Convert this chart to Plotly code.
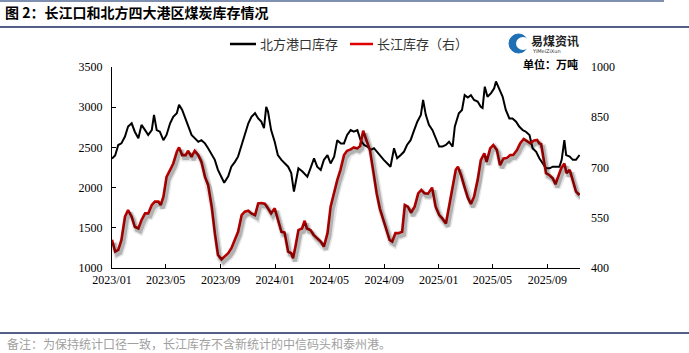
import plotly.graph_objects as go
import pandas as pd

north_dates = ["2023-01-01","2023-01-08","2023-01-15","2023-01-22","2023-01-30","2023-02-06","2023-02-14","2023-02-21","2023-03-01","2023-03-08","2023-03-16","2023-03-23","2023-03-31","2023-04-05","2023-04-11","2023-04-18","2023-04-26","2023-05-03","2023-05-11","2023-05-18","2023-05-26","2023-05-31","2023-06-07","2023-06-13","2023-06-20","2023-06-28","2023-07-05","2023-07-13","2023-07-20","2023-07-28","2023-08-04","2023-08-12","2023-08-19","2023-08-26","2023-09-03","2023-09-09","2023-09-18","2023-09-25","2023-10-03","2023-10-10","2023-10-18","2023-10-25","2023-11-02","2023-11-09","2023-11-17","2023-11-24","2023-12-01","2023-12-07","2023-12-12","2023-12-16","2023-12-23","2023-12-31","2024-01-07","2024-01-15","2024-01-22","2024-01-30","2024-02-06","2024-02-12","2024-02-17","2024-02-22","2024-03-02","2024-03-13","2024-03-20","2024-03-28","2024-04-04","2024-04-12","2024-04-19","2024-04-27","2024-05-04","2024-05-12","2024-05-19","2024-05-27","2024-06-03","2024-06-10","2024-06-18","2024-06-25","2024-07-03","2024-07-10","2024-07-18","2024-07-25","2024-08-02","2024-08-09","2024-08-16","2024-08-24","2024-08-31","2024-09-08","2024-09-15","2024-09-23","2024-09-30","2024-10-08","2024-10-15","2024-10-22","2024-10-30","2024-11-07","2024-11-14","2024-11-22","2024-11-27","2024-12-03","2024-12-10","2024-12-18","2024-12-25","2025-01-02","2025-01-09","2025-01-17","2025-01-24","2025-02-01","2025-02-06","2025-02-15","2025-02-22","2025-02-28","2025-03-07","2025-03-14","2025-03-21","2025-03-29","2025-04-05","2025-04-09","2025-04-14","2025-04-20","2025-04-28","2025-05-05","2025-05-09","2025-05-16","2025-05-24","2025-05-31","2025-06-08","2025-06-15","2025-06-23","2025-06-30","2025-07-08","2025-07-15","2025-07-23","2025-07-30","2025-08-07","2025-08-14","2025-08-22","2025-08-29","2025-09-06","2025-09-13","2025-09-21","2025-09-28","2025-10-03","2025-10-09","2025-10-13","2025-10-21","2025-10-28","2025-11-04","2025-11-12"]
north_values = [2360,2400,2530,2550,2635,2760,2800,2695,2615,2780,2715,2655,2715,2905,2715,2695,2590,2655,2800,2880,2925,3030,2965,2880,2760,2655,2615,2570,2590,2550,2490,2405,2345,2220,2115,2060,2140,2260,2320,2385,2530,2655,2800,2880,2925,2860,2820,2740,3005,2945,2715,2570,2405,2345,2300,2260,2180,1950,2095,2240,2200,2135,2240,2365,2260,2220,2345,2405,2300,2385,2590,2550,2550,2655,2715,2695,2715,2590,2530,2510,2470,2490,2445,2385,2345,2300,2260,2490,2365,2405,2445,2530,2590,2715,2820,2905,3090,2905,2780,2715,2615,2510,2510,2530,2570,2510,2760,2925,2965,3150,3120,3150,3090,3070,3005,2990,3255,3130,3175,3235,3320,3235,3130,2965,2860,2860,2820,2760,2715,2695,2655,2490,2445,2365,2300,2240,2240,2260,2260,2260,2345,2590,2405,2385,2345,2345,2405]

yangtze_dates = ["2023-01-01","2023-01-08","2023-01-15","2023-01-22","2023-01-30","2023-02-06","2023-02-14","2023-02-21","2023-03-01","2023-03-08","2023-03-16","2023-03-23","2023-03-31","2023-04-07","2023-04-15","2023-04-20","2023-04-26","2023-05-03","2023-05-11","2023-05-18","2023-05-26","2023-05-31","2023-06-07","2023-06-15","2023-06-20","2023-06-28","2023-07-05","2023-07-13","2023-07-20","2023-07-28","2023-08-04","2023-08-12","2023-08-19","2023-08-26","2023-09-03","2023-09-10","2023-09-18","2023-09-25","2023-10-03","2023-10-10","2023-10-18","2023-10-25","2023-11-02","2023-11-09","2023-11-17","2023-11-24","2023-12-01","2023-12-09","2023-12-16","2023-12-23","2023-12-31","2024-01-07","2024-01-15","2024-01-22","2024-01-30","2024-02-06","2024-02-10","2024-02-16","2024-02-22","2024-03-01","2024-03-07","2024-03-12","2024-03-20","2024-03-27","2024-04-04","2024-04-12","2024-04-19","2024-04-27","2024-05-04","2024-05-11","2024-05-19","2024-05-26","2024-06-03","2024-06-10","2024-06-18","2024-06-25","2024-07-03","2024-07-09","2024-07-16","2024-07-23","2024-07-31","2024-08-07","2024-08-15","2024-08-22","2024-08-30","2024-09-06","2024-09-13","2024-09-19","2024-09-26","2024-10-03","2024-10-11","2024-10-17","2024-10-24","2024-10-31","2024-11-08","2024-11-16","2024-11-23","2024-11-30","2024-12-08","2024-12-17","2024-12-25","2025-01-02","2025-01-09","2025-01-17","2025-01-24","2025-02-01","2025-02-08","2025-02-13","2025-02-20","2025-02-28","2025-03-07","2025-03-14","2025-03-21","2025-03-29","2025-04-05","2025-04-13","2025-04-18","2025-04-26","2025-05-03","2025-05-11","2025-05-18","2025-05-26","2025-06-02","2025-06-10","2025-06-17","2025-06-25","2025-07-02","2025-07-10","2025-07-17","2025-07-25","2025-08-01","2025-08-09","2025-08-14","2025-08-18","2025-08-24","2025-08-29","2025-09-06","2025-09-13","2025-09-19","2025-09-25","2025-10-02","2025-10-09","2025-10-14","2025-10-21","2025-10-28","2025-11-04","2025-11-12"]
yangtze_values = [484,449,454,484,553,573,553,523,518,543,563,563,588,598,598,588,613,672,693,712,747,760,737,737,750,732,750,737,717,672,648,583,504,439,426,434,444,459,484,508,558,568,571,563,558,593,594,592,578,563,578,543,508,506,449,444,429,469,513,518,541,518,513,499,489,479,464,504,583,623,663,693,737,750,754,760,757,764,810,782,752,693,623,578,543,513,484,479,504,504,508,588,583,565,583,623,633,623,622,640,583,558,548,533,583,643,693,702,677,640,610,591,613,663,722,742,717,757,767,752,707,727,728,737,738,752,772,785,780,772,780,782,772,770,722,683,677,668,650,672,698,712,683,693,658,628,618]

x_ticks = ["2023-01-01","2023-05-01","2023-09-01","2024-01-01","2024-05-01","2024-09-01","2025-01-01","2025-05-01","2025-09-01"]
x_tick_labels = ["2023/01","2023/05","2023/09","2024/01","2024/05","2024/09","2025/01","2025/05","2025/09"]
left_ticks = [1000,1500,2000,2500,3000,3500]
right_ticks = [400,550,700,850,1000]

title_text = "图 2：长江口和北方四大港区煤炭库存情况"
legend_north = "北方港口库存"
legend_yangtze = "长江库存（右）"
unit_text = "单位：万吨"
note_text = "备注：为保持统计口径一致，长江库存不含新统计的中信码头和泰州港。"

W, H = 689, 353
ML, MR, MT, MB = 112, 109, 67, 85

x_start = pd.Timestamp("2023-01-01")
x_end = pd.Timestamp("2025-11-13")
plot_w = W - ML - MR
plot_h = H - MT - MB
days_per_px = (x_end - x_start) / plot_w
sh_dx, sh_dy = 2, 3
rng_r = (400, 1000)
units_per_px_r = (rng_r[1] - rng_r[0]) / plot_h

fig = go.Figure()

fig.add_trace(go.Scatter(
    x=yangtze_dates, y=yangtze_values, mode="lines",
    line=dict(color="rgba(0,0,0,0.10)", width=7), xaxis="x2", yaxis="y3",
    hoverinfo="skip", showlegend=False))
fig.add_trace(go.Scatter(
    x=yangtze_dates, y=yangtze_values, mode="lines",
    line=dict(color="rgba(0,0,0,0.22)", width=4), xaxis="x2", yaxis="y3",
    hoverinfo="skip", showlegend=False))
fig.add_trace(go.Scatter(
    x=north_dates, y=north_values, mode="lines", name=legend_north,
    line=dict(color="#000000", width=2), showlegend=False))
fig.add_trace(go.Scatter(
    x=yangtze_dates, y=yangtze_values, mode="lines", name=legend_yangtze,
    line=dict(color="#C00000", width=2.6), yaxis="y2", showlegend=False))

tick_font = dict(family="Liberation Serif, Times New Roman, serif", size=12, color="#000")
cjk = "Noto Sans CJK SC, sans-serif"

fig.update_layout(
    width=W, height=H,
    margin=dict(l=ML, r=MR, t=MT, b=MB),
    paper_bgcolor="white", plot_bgcolor="rgba(0,0,0,0)",
    xaxis=dict(
        type="date", range=[x_start, x_end],
        tickvals=x_ticks, ticktext=x_tick_labels,
        showgrid=False, zeroline=False,
        showline=True, linecolor="#000", linewidth=1.3,
        ticks="inside", ticklen=4, tickcolor="#000",
        tickfont=tick_font,
    ),
    xaxis2=dict(
        type="date", overlaying="x",
        range=[x_start - sh_dx * days_per_px, x_end - sh_dx * days_per_px],
        visible=False,
    ),
    yaxis=dict(
        range=[1000, 3500], tickvals=left_ticks,
        showgrid=False, zeroline=False,
        showline=True, linecolor="#000", linewidth=1.3,
        ticks="inside", ticklen=4, tickcolor="#000",
        tickfont=tick_font, ticklabelstandoff=6,
    ),
    yaxis2=dict(
        range=list(rng_r), tickvals=right_ticks, overlaying="y", side="right",
        showgrid=False, zeroline=False, showline=False, ticks="",
        tickfont=tick_font, ticklabelstandoff=10,
    ),
    yaxis3=dict(
        range=[rng_r[0] + sh_dy * units_per_px_r, rng_r[1] + sh_dy * units_per_px_r],
        overlaying="y", visible=False,
    ),
)

def px_x(px):
    return (px - ML) / plot_w

def px_y(py):
    return 1 - (py - MT) / plot_h

shapes = [
    dict(type="line", xref="paper", yref="paper", x0=px_x(0), x1=px_x(664),
         y0=px_y(1), y1=px_y(1), line=dict(color="#7f8fb0", width=2)),
    dict(type="line", xref="paper", yref="paper", x0=px_x(0), x1=px_x(W),
         y0=px_y(27), y1=px_y(27), line=dict(color="#1a2a5e", width=1.5)),
    dict(type="line", xref="paper", yref="paper", x0=px_x(0), x1=px_x(W),
         y0=px_y(333), y1=px_y(333), line=dict(color="#1a2a5e", width=1.5)),
    # legend samples
    dict(type="line", xref="paper", yref="paper", x0=px_x(230), x1=px_x(256),
         y0=px_y(44), y1=px_y(44), line=dict(color="#000", width=2.5)),
    dict(type="line", xref="paper", yref="paper", x0=px_x(350), x1=px_x(373),
         y0=px_y(44), y1=px_y(44), line=dict(color="#E00000", width=2.5)),
    # logo "C" mark
    dict(type="circle", xref="paper", yref="paper",
         x0=px_x(509), x1=px_x(528), y0=px_y(53), y1=px_y(34),
         fillcolor="#1f6fb5", line=dict(color="#1f6fb5", width=1)),
    dict(type="circle", xref="paper", yref="paper",
         x0=px_x(516), x1=px_x(530), y0=px_y(50), y1=px_y(37),
         fillcolor="white", line=dict(color="white", width=0)),
]

annotations = [
    dict(text=title_text, x=px_x(3), y=px_y(12), xref="paper", yref="paper",
         xanchor="left", yanchor="middle", showarrow=False,
         font=dict(family=cjk, size=14, color="#000", weight="bold")),
    dict(text=legend_north, x=px_x(258), y=px_y(44), xref="paper", yref="paper",
         xanchor="left", yanchor="middle", showarrow=False,
         font=dict(family=cjk, size=13, color="#333")),
    dict(text=legend_yangtze, x=px_x(375), y=px_y(44), xref="paper", yref="paper",
         xanchor="left", yanchor="middle", showarrow=False,
         font=dict(family=cjk, size=13, color="#333")),
    dict(text="易煤资讯", x=px_x(529), y=px_y(41), xref="paper", yref="paper",
         xanchor="left", yanchor="middle", showarrow=False,
         font=dict(family=cjk, size=12, color="#222", weight="bold")),
    dict(text="YiMeiZiXun", x=px_x(530), y=px_y(51), xref="paper", yref="paper",
         xanchor="left", yanchor="middle", showarrow=False,
         font=dict(family="DejaVu Sans", size=5, color="#333")),
    dict(text=unit_text, x=px_x(580), y=px_y(64), xref="paper", yref="paper",
         xanchor="right", yanchor="middle", showarrow=False,
         font=dict(family=cjk, size=11, color="#000", weight="bold")),
    dict(text=note_text, x=px_x(5), y=px_y(343), xref="paper", yref="paper",
         xanchor="left", yanchor="middle", showarrow=False,
         font=dict(family=cjk, size=12, color="#a0a0a0")),
]

fig.update_layout(shapes=shapes, annotations=annotations)

fig.write_html("out.html")
